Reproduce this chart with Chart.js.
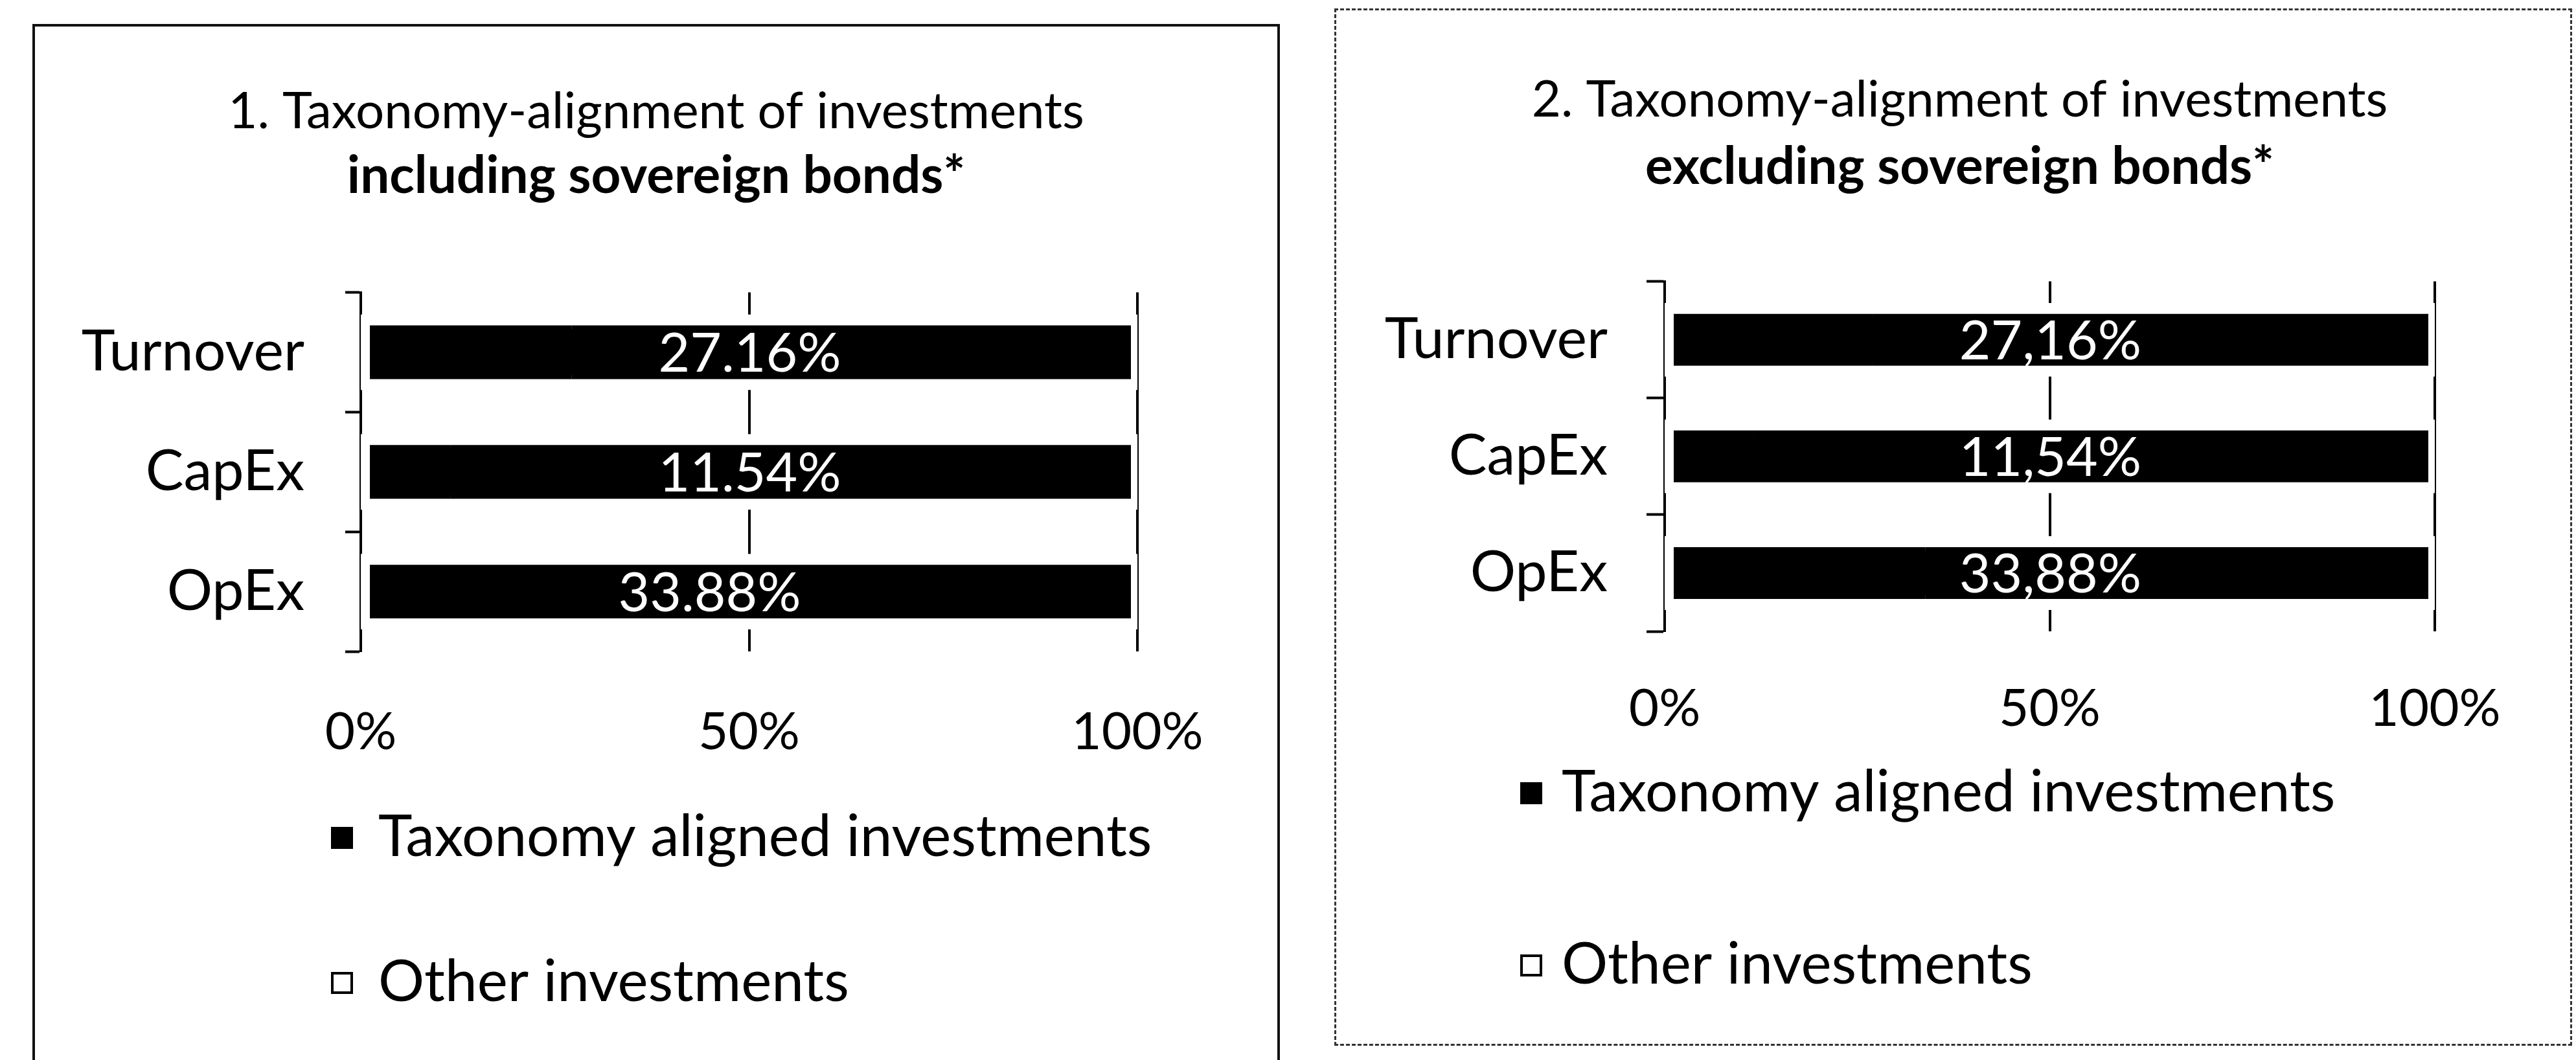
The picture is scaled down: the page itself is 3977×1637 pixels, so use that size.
<!DOCTYPE html>
<html><head><meta charset="utf-8">
<script src="https://cdn.jsdelivr.net/npm/chart.js@4.4.0/dist/chart.umd.min.js"></script>
<style>
html,body{margin:0;padding:0;background:#fff;overflow:hidden;width:3977px;height:1637px;}
.panel{position:absolute;box-sizing:border-box;background:#fff;}
#p1{left:50px;top:37px;width:1926px;height:1700px;border:4px solid #111;}
#p2{left:2060px;top:13px;width:1911px;height:1602px;border:3px dashed #333;}
canvas{display:block;}
</style></head><body>
<div class="panel" id="p1"><canvas id="c1" width="1918" height="1692"></canvas></div>
<div class="panel" id="p2"><canvas id="c2" width="1905" height="1596"></canvas></div>
<script>
// ---- data ----
const categories = ['Turnover', 'CapEx', 'OpEx'];
const seriesNames = ['Taxonomy aligned investments', 'Other investments'];
const alignedIncl = [27.16, 11.54, 33.88];
const otherIncl = [72.84, 88.46, 66.12];
const alignedExcl = [27.16, 11.54, 33.88];
const otherExcl = [72.84, 88.46, 66.12];
const xTickValues = [0, 50, 100];
const xTickLabels = ['0%', '50%', '100%'];
const title1 = ['1. Taxonomy-alignment of investments', 'including sovereign bonds*'];
const title2 = ['2. Taxonomy-alignment of investments', 'excluding sovereign bonds*'];

Chart.defaults.font.family = 'Lato';
Chart.defaults.color = '#000';

// white value labels centred on each full bar
const valueLabels = {
  id: 'valueLabels',
  afterDatasetsDraw(chart, args, opts) {
    const ctx = chart.ctx;
    const m0 = chart.getDatasetMeta(0), m1 = chart.getDatasetMeta(1);
    ctx.save();
    ctx.fillStyle = opts.color;
    ctx.font = opts.size + 'px Lato';
    ctx.textAlign = 'center';
    ctx.textBaseline = 'middle';
    m0.data.forEach((bar, i) => {
      const end = m1.data[i];
      const shift = opts.shift ? opts.shift[i] : 0;
      const x = (bar.base + end.x) / 2 + shift;
      const v = chart.data.datasets[0].data[i];
      const txt = v.toFixed(2).replace('.', opts.decimal) + '%';
      ctx.fillText(txt, x, bar.y + opts.dy);
    });
    ctx.restore();
  }
};

// vertical legend list, left aligned (Excel style)
const listLegend = {
  id: 'listLegend',
  afterDraw(chart, args, o) {
    const ctx = chart.ctx;
    ctx.save();
    ctx.font = o.size + 'px Lato';
    ctx.textAlign = 'left';
    ctx.textBaseline = 'middle';
    chart.data.datasets.forEach((ds, i) => {
      const y = o.rows[i];
      const by = y + o.boxDy - o.box / 2;
      if (i === 0) {
        ctx.fillStyle = '#000';
        ctx.fillRect(o.x, by, o.box, o.box);
      } else {
        ctx.fillStyle = '#fff';
        ctx.fillRect(o.x, by, o.box, o.box);
        ctx.strokeStyle = '#000';
        ctx.lineWidth = 4;
        ctx.strokeRect(o.x + 2, by + 2, o.box - 4, o.box - 4);
      }
      ctx.fillStyle = '#000';
      ctx.fillText(ds.label, o.textX, y + 5);
    });
    ctx.restore();
  }
};

function makeChart(id, aligned, other, titles, L) {
  return new Chart(document.getElementById(id), {
    type: 'bar',
    data: {
      labels: categories,
      datasets: [
        { label: seriesNames[0], data: aligned, order: 0, backgroundColor: '#000', borderColor: '#fff',
          borderWidth: {top: 17, bottom: 17, left: 15, right: 0}, borderSkipped: 'right',
          inflateAmount: 3, barPercentage: 0.6, categoryPercentage: 1 },
        { label: seriesNames[1], data: other, order: 1, backgroundColor: '#000', borderColor: '#fff',
          borderWidth: {top: 17, bottom: 17, left: 0.01, right: 13}, borderSkipped: false,
          inflateAmount: 3, barPercentage: 0.6, categoryPercentage: 1 }
      ]
    },
    options: {
      indexAxis: 'y',
      responsive: false,
      animation: false,
      layout: { padding: { left: L.padL, right: 0, top: 0, bottom: L.padB } },
      scales: {
        x: {
          stacked: true, min: 0, max: 100,
          afterBuildTicks: (s) => { s.ticks = xTickValues.map(v => ({value: v})); },
          afterFit: (s) => { s.height = L.xH; },
          grid: { display: true, color: '#000', lineWidth: 4, drawTicks: false },
          border: { display: false },
          ticks: { padding: L.xPad, maxRotation: 0, autoSkip: false, font: { size: L.tickSize },
            callback: (v, i) => xTickLabels[i] }
        },
        y: {
          stacked: true,
          afterFit: (s) => { s.width = L.yW; },
          grid: { offset: true, drawOnChartArea: false, drawTicks: true, tickLength: L.tickLen,
            tickColor: '#000', tickWidth: 4 },
          border: { display: true, color: '#000', width: 4 },
          ticks: { padding: L.yPad, font: { size: L.catSize } }
        },
        spacer: {
          type: 'category', position: 'right', display: true,
          afterFit: (s) => { s.width = L.spacer; },
          grid: { display: false, drawTicks: false },
          border: { display: false },
          ticks: { display: false }
        }
      },
      plugins: {
        title: { display: true, text: titles[0], font: { size: L.titleSize, weight: 'normal', lineHeight: 1.2 },
          padding: { top: L.tPadT, bottom: 0 }, color: '#000' },
        subtitle: { display: true, text: titles[1], font: { size: L.subSize, weight: 'bold', lineHeight: 1.2 },
          padding: { top: L.sPadT, bottom: L.sPadB }, color: '#000' },
        legend: { display: false },
        tooltip: { enabled: false },
        valueLabels: { color: '#fff', size: L.valSize, decimal: L.decimal, dy: 3, shift: L.shift },
        listLegend: L.legend
      }
    },
    plugins: [valueLabels, listLegend]
  });
}

makeChart('c1', alignedIncl, otherIncl, title1, {
  padL: 0, spacer: 216, padB: 547, xH: 180, xPad: 77, yW: 503, tickLen: 24, yPad: 63,
  tPadT: 85, sPadT: 5, sPadB: 131,
  titleSize: 78, subSize: 80, tickSize: 80, catSize: 88, valSize: 84, decimal: '.', shift: [0, 0, -62],
  legend: { x: 457, textX: 530, rows: [1247, 1471], box: 34, boxDy: 6, size: 89 }
});
makeChart('c2', alignedExcl, otherExcl, title2, {
  padL: 20, spacer: 209, padB: 457, xH: 180, xPad: 72, yW: 487, tickLen: 28, yPad: 60,
  tPadT: 92, sPadT: 9, sPadB: 128,
  titleSize: 78, subSize: 80, tickSize: 80, catSize: 88, valSize: 84, decimal: ',', shift: [0, 0, 0],
  legend: { x: 284, textX: 348, rows: [1203, 1469], box: 34, boxDy: 6, size: 89 }
});
</script>
</body></html>
